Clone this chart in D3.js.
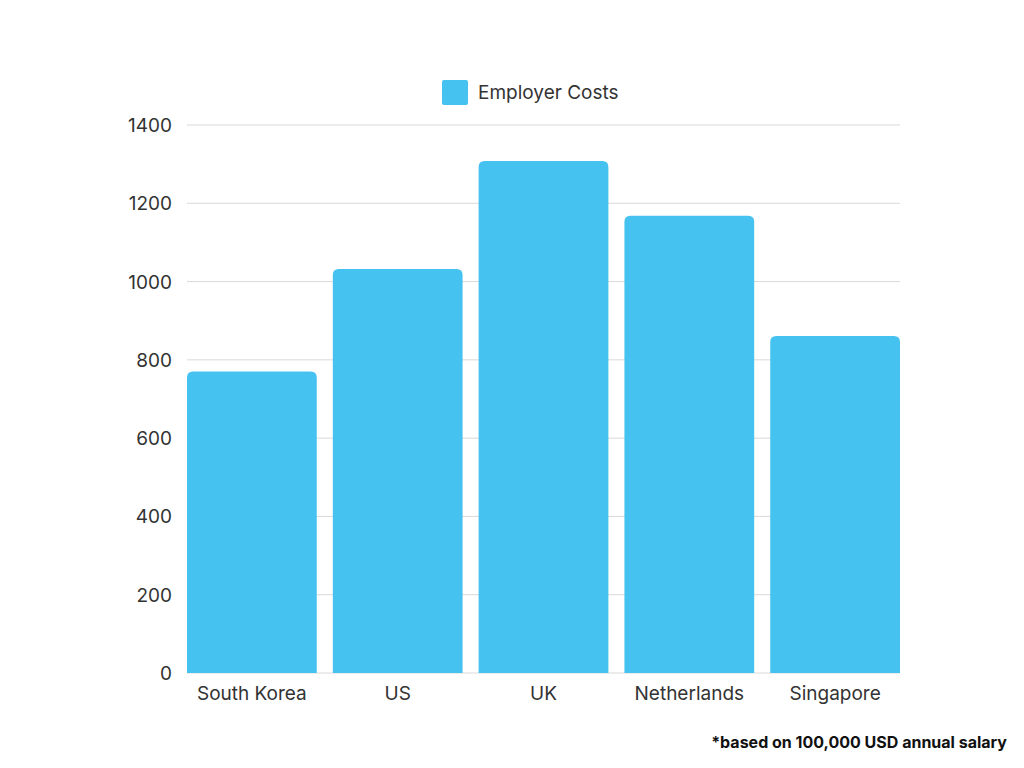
<!DOCTYPE html>
<html><head><meta charset="utf-8">
<script src="https://cdn.jsdelivr.net/npm/d3@7"></script>
<style>body{margin:0;background:#fff;font-family:Inter,"Noto Sans",sans-serif;}</style>
</head><body>
<svg id="chart" width="1024" height="768"></svg>
<script>
// chart values
const countries = ["South Korea", "US", "UK", "Netherlands", "Singapore"];
const employerCosts = [770, 1032, 1308, 1168, 861];
const yTicks = [0, 200, 400, 600, 800, 1000, 1200, 1400];

const svg = d3.select("#chart");
const plotLeft = 187, plotRight = 900, plotTop = 125, plotBottom = 673;
const color = "#45c2ef";

let x = d3.scaleBand().domain(countries).range([plotLeft, plotRight]).paddingInner(0.11).paddingOuter(0);
let y = d3.scaleLinear().domain([0, 1400]).range([plotBottom, plotTop]);

// gridlines
svg.append("g").selectAll("line").data(yTicks).enter().append("line")
    .attr("x1", plotLeft).attr("x2", plotRight)
    .attr("y1", d => y(d)).attr("y2", d => y(d))
    .attr("stroke", "#d9d9d9").attr("stroke-width", 1);

// y labels
svg.append("g").selectAll("text").data(yTicks).enter().append("text")
    .attr("x", 172).attr("y", d => y(d) + 7)
    .attr("text-anchor", "end").attr("font-size", 19).attr("fill", "#333")
    .text(d => d);

// bars with rounded tops
svg.append("g").selectAll("path").data(countries).enter().append("path")
    .attr("fill", color)
    .attr("d", (c, i) => {
        let x0 = x(c), w = x.bandwidth(), y0 = y(employerCosts[i]), r = 6;
        return `M${x0},${plotBottom}V${y0 + r}Q${x0},${y0} ${x0 + r},${y0}H${x0 + w - r}Q${x0 + w},${y0} ${x0 + w},${y0 + r}V${plotBottom}Z`;
    });

// x labels
svg.append("g").selectAll("text").data(countries).enter().append("text")
    .attr("x", c => x(c) + x.bandwidth() / 2).attr("y", 700)
    .attr("text-anchor", "middle").attr("font-size", 19).attr("fill", "#333")
    .text(c => c);

// legend
svg.append("rect").attr("x", 442).attr("y", 80).attr("width", 26).attr("height", 25).attr("rx", 2).attr("fill", color);
svg.append("text").attr("x", 478).attr("y", 99).attr("font-size", 19).attr("fill", "#333").text("Employer Costs");

// footnote
svg.append("text").attr("x", 1007).attr("y", 748).attr("text-anchor", "end")
    .attr("font-size", 16).attr("font-weight", "bold").attr("fill", "#111")
    .text("*based on 100,000 USD annual salary");
</script>
</body></html>
